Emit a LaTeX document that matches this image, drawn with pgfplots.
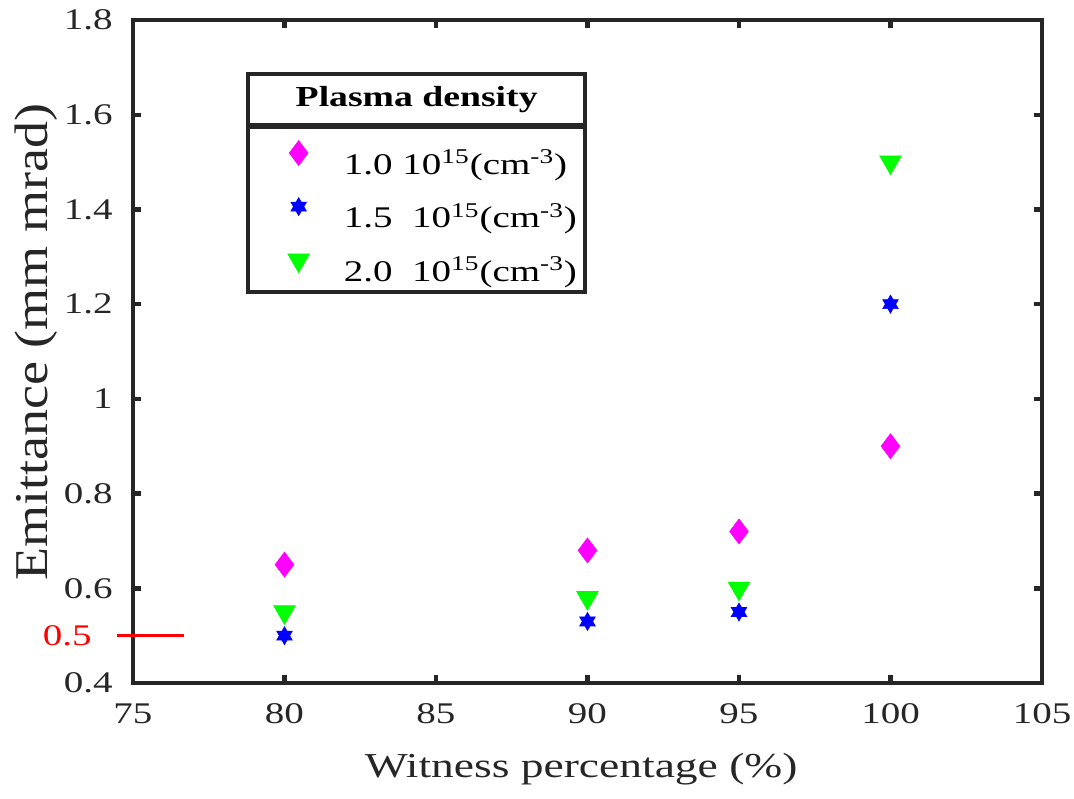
\documentclass[border=0pt]{standalone}
\usepackage{pgfplots}
\pgfplotsset{compat=1.18}
\usepackage{fontspec}
\setmainfont[FakeStretch=1.3]{Liberation Serif}
\newfontfamily\ylabfont[FakeStretch=1.15]{Liberation Serif}
\definecolor{axiscol}{RGB}{38,38,38}
\definecolor{mag}{RGB}{255,0,255}
\definecolor{blu}{RGB}{0,0,255}
\definecolor{grn}{RGB}{0,255,0}
\pgfdeclareplotmark{hexstar}{%
  \pgfpathmoveto{\pgfqpointpolar{90}{\pgfplotmarksize}}%
  \pgfpathlineto{\pgfqpointpolar{120}{0.577\pgfplotmarksize}}%
  \pgfpathlineto{\pgfqpointpolar{150}{\pgfplotmarksize}}%
  \pgfpathlineto{\pgfqpointpolar{180}{0.577\pgfplotmarksize}}%
  \pgfpathlineto{\pgfqpointpolar{210}{\pgfplotmarksize}}%
  \pgfpathlineto{\pgfqpointpolar{240}{0.577\pgfplotmarksize}}%
  \pgfpathlineto{\pgfqpointpolar{270}{\pgfplotmarksize}}%
  \pgfpathlineto{\pgfqpointpolar{300}{0.577\pgfplotmarksize}}%
  \pgfpathlineto{\pgfqpointpolar{330}{\pgfplotmarksize}}%
  \pgfpathlineto{\pgfqpointpolar{0}{0.577\pgfplotmarksize}}%
  \pgfpathlineto{\pgfqpointpolar{30}{\pgfplotmarksize}}%
  \pgfpathlineto{\pgfqpointpolar{60}{0.577\pgfplotmarksize}}%
  \pgfpathclose
  \pgfusepathqfillstroke
}
\newcommand{\legtxt}[1]{\makebox[117pt][l]{#1}}
\begin{document}
\begin{tikzpicture}
\begin{axis}[
  scale only axis,
  width=454.5pt, height=331.5pt,
  xmin=75, xmax=105, ymin=0.4, ymax=1.8,
  xtick={75,80,...,105},
  ytick={0.4,0.6,...,1.8},
  yticklabels={0.4,0.6,0.8,1,1.2,1.4,1.6,1.8},
  /pgf/number format/assume math mode=true,
  tick align=inside,
  major tick length=4pt,
  axis line style={line width=2.2pt, color=axiscol},
  every tick/.style={line width=2.2pt, color=axiscol},
  tick label style={font=\fontsize{15}{18}\selectfont, color=axiscol, inner sep=0pt},
  yticklabel style={anchor=east, xshift=-10pt},
  xticklabel style={anchor=north, yshift=-10pt},
  xlabel={Witness percentage (\%)},
  ylabel={Emittance (mm mrad)},
  xlabel style={font=\fontsize{17.5}{21}\selectfont, color=axiscol, inner sep=0pt,
    at={(axis description cs:0.493,0)}, anchor=north, yshift=-35pt},
  ylabel style={font=\ylabfont\fontsize{23.5}{28}\selectfont, color=axiscol, inner sep=0pt,
    at={(axis description cs:-0.1309,0.514)}, anchor=north},
  clip=false,
  legend style={at={(0.1243,0.8416)}, anchor=north west, draw=none, fill=none,
    inner xsep=0pt, inner ysep=5.3pt, row sep=4.3pt,
    font=\fontsize{15}{18}\selectfont,
    cells={anchor=west, inner xsep=0pt, inner ysep=0pt, text height=17pt, text depth=0pt}},
  legend cell align=left,
  legend image code/.code={%
    \path (0pt,-10pt) (46.5pt,10pt);
    \draw[#1] plot coordinates {(26pt,2.75pt)};},
]
\addplot[only marks, mark=diamond*, mark size=6.25pt, color=mag, line width=0.3pt]
  coordinates {(80,0.65) (90,0.68) (95,0.72) (100,0.90)};
\addlegendentry{\legtxt{1.0 10\textsuperscript{15}(cm\textsuperscript{-3})}}
\addplot[only marks, mark=hexstar, mark size=4.5pt, color=blu, line width=0.3pt]
  coordinates {(80,0.50) (90,0.53) (95,0.55) (100,1.20)};
\addlegendentry{\legtxt{1.5\ \ 10\textsuperscript{15}(cm\textsuperscript{-3})}}
\addplot[only marks, mark=triangle*, mark size=6.25pt, color=grn, line width=0.3pt, mark options={rotate=180}]
  coordinates {(80,0.55) (90,0.58) (95,0.60) (100,1.50)};
\addlegendentry{\legtxt{2.0\ \ 10\textsuperscript{15}(cm\textsuperscript{-3})}}
\addplot[red, line width=1.5pt, forget plot] coordinates {(74.472,0.5) (76.683,0.5)};
\node[red, anchor=east, font=\fontsize{15}{18}\selectfont, inner sep=0pt] at (axis cs:73.647,0.5) {0.5};
\node[draw=axiscol, line width=2.2pt, anchor=north west, minimum width=168.5pt, minimum height=25.5pt,
  font=\fontsize{14.5}{17}\selectfont\bfseries, inner sep=0pt] at (rel axis cs:0.1243,0.9216) {Plasma density};
\node[draw=axiscol, line width=2.2pt, anchor=north west, minimum width=168.5pt, minimum height=82.5pt,
  inner sep=0pt] at (rel axis cs:0.1243,0.8416) {};
\path (rel axis cs:-0.1463,-0.1735) (rel axis cs:1.0352,1.0302);
\end{axis}
\end{tikzpicture}
\end{document}
